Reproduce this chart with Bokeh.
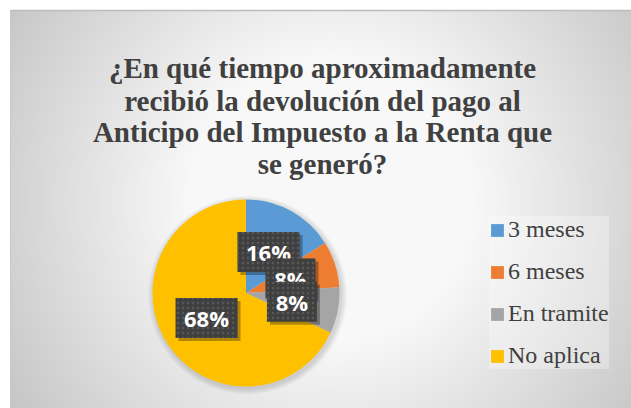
import numpy as np
from bokeh.plotting import figure
from bokeh.models import Range1d, Legend, LegendItem
from bokeh.core.properties import value
from bokeh.embed import file_html
from bokeh.resources import INLINE

# ---- data ----
categories = ["3 meses", "6 meses", "En tramite", "No aplica"]
percents = [16, 8, 8, 68]
colors = ["#5B9BD5", "#ED7D31", "#A5A5A5", "#FFC000"]
title_lines = [
    "¿En qué tiempo aproximadamente",
    "recibió la devolución del pago al",
    "Anticipo del Impuesto a la Renta que",
    "se generó?",
]

W, H = 631, 408
SERIF = value("Liberation Serif, Times New Roman, serif")
p = figure(width=W, height=H, x_range=Range1d(0, W), y_range=Range1d(0, H),
           output_backend="svg", toolbar_location=None, min_border=0,
           x_axis_location=None, y_axis_location=None,
           background_fill_color="white", border_fill_color="white",
           outline_line_color=None)
p.xgrid.visible = False
p.ygrid.visible = False

# ---- background radial gradient (chart area) ----
gw, gh = W - 10, H - 10
gx = np.arange(gw) + 10.5
gy = H - (np.arange(gh) + 0.5)
X, Y = np.meshgrid(gx, gy)
Rr = np.hypot(X - 330, Y - 200)
v = np.clip(278 - 0.21 * Rr, 195, 248).astype(np.uint32)
img = ((255 << 24) | (v << 16) | (v << 8) | v).astype(np.uint32)
p.image_rgba(image=[img], x=10, y=0, dw=gw, dh=gh)
p.line(x=[10, W], y=[H - 10, H - 10], line_color="#bdbdbd", line_width=1.5)
p.line(x=[10, 10], y=[0, H - 10], line_color="#c8c8c8", line_width=1)

# ---- title ----
p.text(x=[322] * 4, y=[H - 67.3, H - 100, H - 131.7, H - 163.3], text=title_lines,
       text_font=SERIF, text_font_style="bold",
       text_font_size="29px", text_color="#404040",
       text_align="center", text_baseline="alphabetic")

# ---- pie ----
cx, cy, R0 = 245.5, H - 292.5, 93.5
for k in range(1, 7):
    p.circle(x=cx + 1.5, y=cy - 2, radius=R0 + k, fill_color="black",
             fill_alpha=0.022, line_color=None)

frac = np.array(percents, dtype=float) / sum(percents)
cum = np.concatenate([[0.0], np.cumsum(frac)])
start = np.pi / 2 - 2 * np.pi * cum[:-1]
end = np.pi / 2 - 2 * np.pi * cum[1:]
src = dict(start=list(start), end=list(end), color=colors, cat=categories)
wr = p.wedge(x=cx, y=cy, radius=R0, start_angle="start", end_angle="end",
             direction="clock", fill_color="color", line_color=None, source=src)

# ---- data labels ----
mid = (start + end) / 2
lx = cx + 0.5 * R0 * np.cos(mid)
ly = cy + 0.5 * R0 * np.sin(mid)
labels = [f"{pc}%" for pc in percents]
for i in range(len(labels)):
    bw = 26 + 12 * len(labels[i])
    p.rect(x=[lx[i] + 3], y=[ly[i] - 3], width=bw, height=40,
           fill_color="black", fill_alpha=0.3, line_color=None)
    p.rect(x=[lx[i]], y=[ly[i]], width=bw, height=40,
           fill_color="#3f3f3f", line_color=None,
           hatch_pattern="dot", hatch_color="#585858", hatch_scale=5)
    p.text(x=[lx[i]], y=[ly[i]], text=[labels[i]],
           text_font=value("Open Sans"), text_font_style="bold",
           text_font_size="22px", text_color="white",
           text_align="center", text_baseline="middle")

# ---- legend ----
items = [LegendItem(label=categories[i], renderers=[wr], index=i)
         for i in range(len(categories))]
legend = Legend(items=items, location=(489, 39), orientation="vertical",
                label_text_font="Liberation Serif", label_text_font_size="24px",
                label_text_color="#404040", glyph_width=16, glyph_height=16,
                label_height=24, label_standoff=3, spacing=15, padding=9,
                margin=0, background_fill_color="white",
                background_fill_alpha=0.3, border_line_color=None)
p.add_layout(legend, "center")

open("out.html", "w").write(file_html(p, INLINE))
